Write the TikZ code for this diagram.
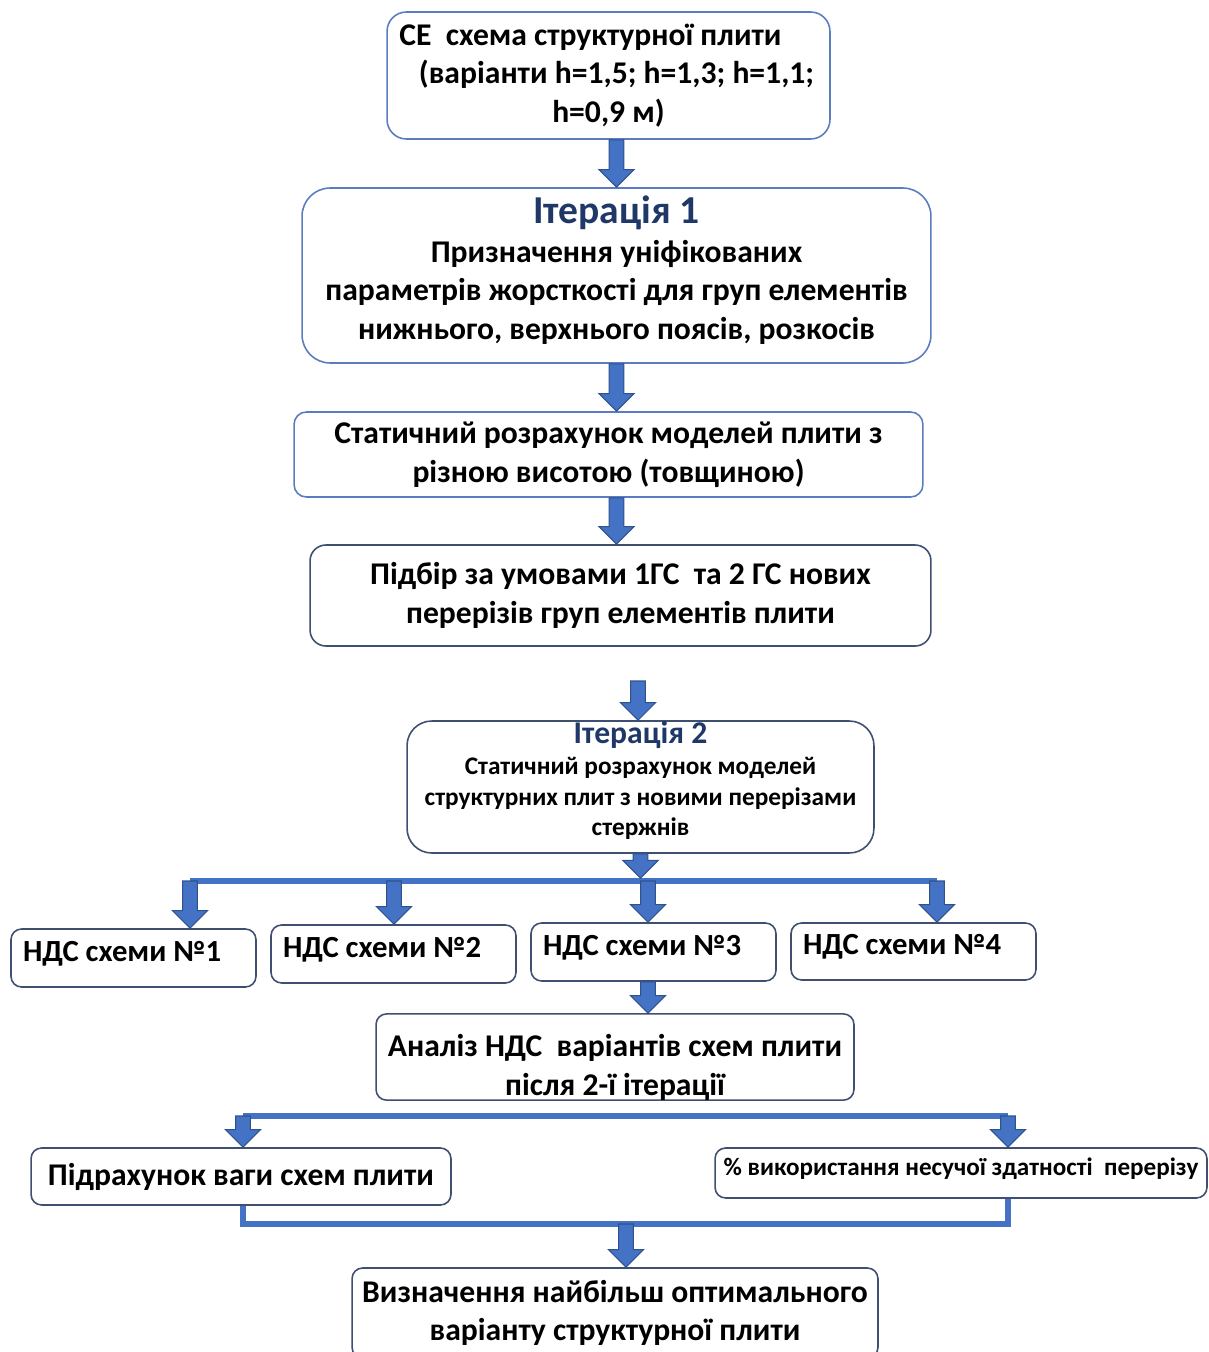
\documentclass[tikz,border=0pt]{standalone}
\usepackage{fontspec}
\setmainfont{Carlito}
\usetikzlibrary{calc}
\definecolor{arrowblue}{HTML}{4472C4}
\definecolor{arrowedge}{HTML}{2F528F}
\definecolor{boxedge}{HTML}{5B7CBF}
\definecolor{boxdark}{HTML}{3E4F72}
\definecolor{titleblue}{HTML}{1F3868}
\begin{document}
\begin{tikzpicture}[x=0.02cm,y=-0.02cm,
    box/.style={draw=boxedge,line width=.9pt,fill=white,align=center,inner sep=0pt,
        font=\bfseries\fontsize{18}{22}\selectfont},
    darkbox/.style={box,draw=boxdark,rounded corners=6pt},
    ndsbox/.style={darkbox,align=left,text width=4.42cm,minimum width=4.9cm,
        text height=.45cm,text depth=.33cm,font=\bfseries\fontsize{17.5}{21}\selectfont,
        execute at begin node={\spaceskip=0pt\xspaceskip=0pt}},
    bus/.style={draw=arrowblue,line width=3.4pt},
    blockarrow/.style={fill=arrowblue,draw=arrowedge,line width=.6pt,
        to path={let \p1=(\tikztostart),\p2=(\tikztotarget) in
            (\x1-4.2pt,\y1) -- (\x1+4.2pt,\y1) -- (\x1+4.2pt,\y2+10pt) -- (\x1+10pt,\y2+10pt)
            -- (\x1,\y2) -- (\x1-10pt,\y2+10pt) -- (\x1-4.2pt,\y2+10pt) -- cycle}}]
    \useasboundingbox (0,0) rectangle (1208,1352);
    \node[box,rounded corners=11pt,minimum width=8.86cm,minimum height=2.54cm] (ce) at (608.5,75.5)
        {CE\ \ схема структурної плити\hspace*{.72cm}\\\hspace*{.32cm}(варіанти h=1,5; h=1,3; h=1,1;\\h=0,9 м)};
    \node[box,rounded corners=16pt,minimum width=12.58cm,minimum height=3.5cm] (it1) at (616.5,275.5)
        {{\color{titleblue}\fontsize{22.5}{27}\selectfont Ітерація 1}\\Призначення уніфікованих\\параметрів жорсткості для груп елементів\\нижнього, верхнього поясів, розкосів\rule[-.32cm]{0pt}{0pt}};
    \node[box,rounded corners=7pt,minimum width=12.58cm,minimum height=1.7cm] (stat) at (608.5,454.5)
        {Статичний розрахунок моделей плити з\\різною висотою (товщиною)};
    \node[darkbox,rounded corners=9pt,minimum width=12.42cm,minimum height=2.02cm] (pidbir) at (620.5,595.5)
        {Підбір за умовами 1ГС\ \ та 2 ГС нових\\перерізів груп елементів плити};
    \node[darkbox,rounded corners=14pt,minimum width=9.34cm,minimum height=2.6cm,
        font=\bfseries\fontsize{14.4}{17.6}\selectfont] (it2) at (640.5,787)
        {{\color{titleblue}\fontsize{18}{22}\selectfont Ітерація 2}\\Статичний розрахунок моделей\\структурних плит з новими перерізами\\стержнів\rule[-.34cm]{0pt}{0pt}};
    \node[ndsbox,minimum height=1.16cm] (n1) at (133.5,958) {НДС схеми №1};
    \node[ndsbox,minimum height=1.16cm] (n2) at (393.5,954) {НДС схеми №2};
    \node[ndsbox,minimum height=1.16cm] (n3) at (653.5,952) {НДС схеми №3};
    \node[ndsbox,minimum height=1.14cm] (n4) at (913.5,951.5) {НДС схеми №4};
    \node[darkbox,minimum width=9.56cm,minimum height=1.72cm] (analiz) at (615,1057)
        {\rule{0pt}{.85cm}Аналіз НДС\ \ варіантів схем плити\\після 2-ї ітерації};
    \node[darkbox,minimum width=8.4cm,minimum height=1.14cm] (weight) at (241,1176.5)
        {Підрахунок ваги схем плити};
    \node[darkbox,minimum width=9.84cm,minimum height=1cm,
        font=\bfseries\fontsize{14.3}{17}\selectfont] (usage) at (961,1173)
        {\% використання несучої здатності\ \ перерізу\rule[-.26cm]{0pt}{0pt}};
    \node[darkbox,minimum width=10.52cm,minimum height=1.8cm] (final) at (615,1313)
        {Визначення найбільш оптимального\\варіанту структурної плити};
    \coordinate (g4) at (638,681);
    \coordinate (t1) at (190,881);
    \coordinate (t2) at (394,881);
    \coordinate (t3) at (648,881);
    \coordinate (t4) at (937,881);
    \coordinate (s1) at (243,1116);
    \coordinate (s2) at (1008,1116);
    \coordinate (j) at (626,1224);
    \draw[bus] (t1) -- (t4);
    \draw[bus] (s1) -- (s2);
    \draw[bus] (s1|-weight.south) |- (j) -| (s2|-usage.south);
    \path[blockarrow] (it1.north|-ce.south) to (it1.north);
    \path[blockarrow] (it1.south) to (stat.north);
    \path[blockarrow] (it1.south|-stat.south) to (pidbir.north);
    \path[blockarrow] (g4) to (it2.north);
    \path[blockarrow] (it2.south) to ([yshift=1.7pt]t3);
    \path[blockarrow] (t1) to (n1.north);
    \path[blockarrow] (t2) to (n2.north);
    \path[blockarrow] (t3) to (n3.north);
    \path[blockarrow] (t4) to (n4.north);
    \path[blockarrow] (t3|-n3.south) to (analiz.north);
    \path[blockarrow] (s1) to (weight.north);
    \path[blockarrow] (s2) to (usage.north);
    \path[blockarrow] (j) to (final.north);
\end{tikzpicture}
\end{document}
